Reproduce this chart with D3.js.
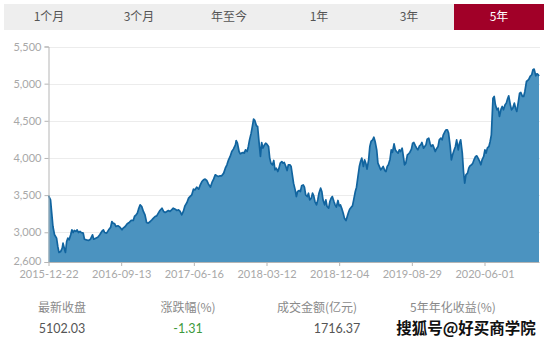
<!DOCTYPE html>
<html>
<head>
<meta charset="utf-8">
<script src="https://cdn.jsdelivr.net/npm/d3@7"></script>
<style>
  body { margin:0; background:#fff; }
  svg text { font-family: Lato, "Noto Sans CJK SC", sans-serif; }
  .axis path, .axis line { stroke:#b5b5b5; }
  .axis text { fill:#a8a8a8; font-size:11px; }
</style>
</head>
<body>
<svg id="chart" width="547" height="340"></svg>
<script>
// period tabs
var tabs = ["1个月", "3个月", "年至今", "1年", "3年", "5年"];
var activeTab = "5年";

// trading-session index (since 2015-12-22) and index close
var sessions = [0,5,8,11,15,20,23,26,30,34,36,40,42,45,48,51,55,58,61,64,68,71,74,78,81,86,89,94,99,104,109,112,117,122,127,132,136,139,144,149,154,157,160,164,167,172,177,182,185,190,195,200,205,210,213,217,220,223,227,
  231,235,239,243,247,252,256,260,264,268,272,276,281,285,289,293,297,301,305,309,314,318,322,326,330,334,338,343,347,351,355,359,363,367,372,376,380,384,388,392,396,401,405,409,413,417,421,425,429,434,438,442,446,450,454,458,463,465,
  468,472,475,478,482,485,488,492,495,498,502,505,508,511,515,518,521,525,528,531,535,538,541,545,548,551,555,558,561,564,568,571,574,578,581,584,588,591,594,598,601,604,607,611,614,617,621,624,627,631,634,637,641,644,647,651,654,657,660,664,667,670,674,677,680,684,687,690,694,697,700,703,707,710,713,
  717,720,723,727,730,733,737,740,743,746,750,753,756,760,763,766,770,773,776,780,783,786,789,793,796,799,803,806,809,813,816,819,823,826,829,833,836,839,842,846,849,852,856,859,862,866,869,872,876,879,882,885,889,892,895,899,902,905,909,912,915,919,922,925,929,932,935,938,
  942,945,948,952,955,958,962,965,968,972,975,978,982,985,988,991,995,998,1001,1005,1008,1011,1015,1018,1021,1025,1028,1031,1034,1038,1041,1044,1048,1051,1054,1058,1061,1064,1068,1071,1074,1078,1081,1084,1087,1091,1094,1097,1101,1104,1107,1111,1114,1117,1121,1124,1127,1131,1134,1137,1140,1144,1147,1150,1154,1157,1160,1164,1167,1170,1174,1177,1180,1184,1187,1190,1193,1197,1200,1203,1207,1210,1213,1215];
var closes = [3495,3437,3257,3078,2966,2921,2809,2728,2741,2786,2854,2764,2728,2876,2921,2898,2966,3033,2997,3024,3011,3033,2997,3011,2997,2988,2907,2898,2890,2907,2966,2907,2921,2934,2966,3011,3033,2997,2988,3033,3069,3145,3123,3114,3078,3087,3069,3033,3056,3078,3114,3132,3159,3159,3213,3235,3257,3311,3370,
  3347,3280,3235,3131,3122,3145,3167,3190,3212,3221,3257,3293,3324,3280,3266,3280,3293,3280,3302,3324,3311,3293,3302,3280,3235,3280,3356,3401,3459,3482,3504,3580,3571,3607,3580,3638,3683,3706,3715,3697,3652,3607,3670,3715,3773,3760,3751,3760,3760,3796,3863,3908,3975,4020,4087,4119,4177,4235,
  4199,4087,4056,4065,4074,4065,4110,4087,4155,4244,4334,4424,4522,4505,4433,4424,4244,4020,4208,4132,4177,4199,4186,4155,3998,3930,3908,3966,3840,3863,3818,3863,3930,3952,3930,3939,3885,3831,3908,3908,3885,3773,3661,3571,3481,3549,3562,3549,3625,3638,3607,3504,3481,3526,3436,3459,3526,3490,3414,3369,3436,3526,3594,3549,3436,3369,3436,3347,3324,3414,3459,3481,3414,3369,3338,
  3428,3356,3369,3311,3257,3190,3158,3212,3266,3311,3338,3356,3437,3549,3607,3728,3885,3953,3998,3885,3975,3930,3849,3975,4155,4222,4244,4280,4222,4110,3930,3894,3840,3863,3885,3831,3818,3885,3908,3984,4110,4074,4190,4110,4087,4065,4110,4087,4132,4020,3908,3930,4042,4056,4074,4119,4199,4208,4163,4132,4110,4163,4177,4208,4132,4155,4177,4253,
  4267,4199,4155,4177,4132,4087,4132,4155,4244,4267,4244,4312,4356,4379,4379,4334,4155,3975,4042,4110,4155,4244,4110,4199,4244,4065,3818,3661,3773,3796,3863,3894,3908,3930,3975,4020,4029,3998,3953,3908,3975,4020,4110,4065,4132,4155,4222,4312,4805,4828,4715,4648,4670,4558,4657,4693,4648,4715,4738,4792,4836,4715,4648,4670,4738,4670,4626,4760,4872,4881,4828,4828,4895,5029,5043,5061,5097,5120,5187,5196,5106,5133,5120,5102];

// x-axis labels sit every 180 sessions
var tickSessions = [0, 180, 360, 540, 720, 900, 1080];
var tickDates = ["2015-12-22", "2016-09-13", "2017-06-16", "2018-03-12", "2018-12-04", "2019-08-29", "2020-06-01"];
var yTicks = [2600, 3000, 3500, 4000, 4500, 5000, 5500];

// summary row
var statLabels = ["最新收盘", "涨跌幅(%)", "成交金额(亿元)", "5年年化收益(%)"];
var statValues = ["5102.03", "-1.31", "1716.37", ""];

var svg = d3.select("#chart");

// tabs
var tabW = 90;
var tabG = svg.append("g");
tabG.selectAll("rect").data(tabs).enter().append("rect")
    .attr("x", function(d, i){ return 4 + i * tabW; })
    .attr("y", 4).attr("width", tabW).attr("height", 26)
    .attr("fill", function(d){ return d === activeTab ? "#a10028" : "#eeeeee"; });
tabG.selectAll("text").data(tabs).enter().append("text")
    .attr("x", function(d, i){ return 4 + i * tabW + tabW / 2; })
    .attr("y", 17).attr("dy", "0.35em")
    .attr("text-anchor", "middle")
    .style("font-size", "12px")
    .style("font-family", "'Noto Sans CJK SC', sans-serif")
    .attr("fill", function(d){ return d === activeTab ? "#ffffff" : "#555555"; })
    .text(function(d){ return d; });

var x = d3.scaleLinear().domain([0, 1215]).range([48.5, 539]);
var y = d3.scaleLinear().domain([2600, 5500]).range([262, 46.5]);

// grid
svg.append("g").selectAll("line").data(yTicks.slice(1)).enter().append("line")
    .attr("x1", 48.5).attr("x2", 540)
    .attr("y1", function(d){ return Math.round(y(d)) + 0.5; })
    .attr("y2", function(d){ return Math.round(y(d)) + 0.5; })
    .attr("stroke", "#ececec");

var pts = sessions.map(function(s, i){ return [s, closes[i]]; });

var area = d3.area()
    .x(function(d){ return x(d[0]); })
    .y0(y(2600))
    .y1(function(d){ return y(d[1]); });
var line = d3.line()
    .x(function(d){ return x(d[0]); })
    .y(function(d){ return y(d[1]); });

svg.append("path").datum(pts).attr("d", area).attr("fill", "#4b93c0");
svg.append("path").datum(pts).attr("d", line)
    .attr("fill", "none").attr("stroke", "#11649f").attr("stroke-width", 1.7)
    .attr("stroke-linejoin", "round");

// axes
var yAxis = d3.axisLeft(y).tickValues(yTicks).tickFormat(d3.format(",")).tickSize(4).tickPadding(3);
svg.append("g").attr("class", "axis").attr("transform", "translate(48.5,0)").call(yAxis)
    .selectAll("text").attr("dy", function(d){ return d === 2600 ? "0.2em" : "0.32em"; });

var xAxis = d3.axisBottom(x).tickValues(tickSessions)
    .tickFormat(function(d, i){ return tickDates[i]; }).tickSize(4).tickPadding(4).tickSizeOuter(0);
svg.append("g").attr("class", "axis").attr("transform", "translate(0,262)").call(xAxis);

// summary
var colX = [62, 188, 317, 453];
var valX = [62, 188, 337, 453];
svg.append("g").selectAll("text").data(statLabels).enter().append("text")
    .attr("x", function(d, i){ return colX[i]; }).attr("y", 308).attr("dy", "0.35em")
    .attr("text-anchor", "middle").style("font-size", "12px")
    .style("font-family", "'Noto Sans CJK SC', sans-serif")
    .attr("fill", "#8a8a8a").text(function(d){ return d; });
svg.append("g").selectAll("text").data(statValues).enter().append("text")
    .attr("x", function(d, i){ return valX[i]; }).attr("y", 329).attr("dy", "0.35em")
    .attr("text-anchor", "middle").style("font-size", "12.5px")
    .attr("fill", function(d){ return d.charAt(0) === "-" ? "#3d9a3d" : "#555555"; })
    .text(function(d){ return d; });

// watermark
svg.append("text").attr("x", 466).attr("y", 329).attr("dy", "0.35em")
    .attr("text-anchor", "middle")
    .style("font-family", "'Noto Sans CJK SC', sans-serif")
    .style("font-size", "15.5px").style("font-weight", "bold")
    .attr("fill", "#111").attr("stroke", "#fff").attr("stroke-width", 0.6)
    .attr("paint-order", "stroke")
    .text("搜狐号@好买商学院");
</script>
</body>
</html>
